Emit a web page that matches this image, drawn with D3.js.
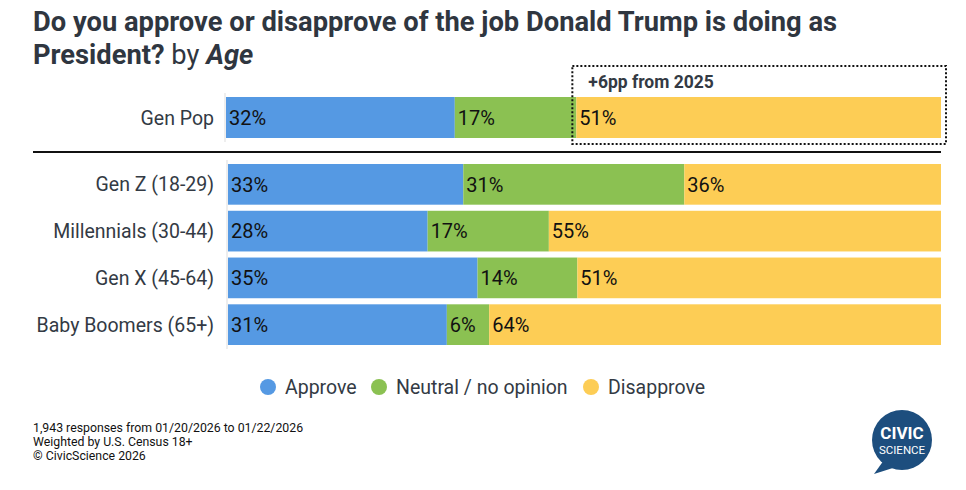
<!DOCTYPE html>
<html>
<head>
<meta charset="utf-8">
<script src="https://cdn.jsdelivr.net/npm/d3@7"></script>
<style>
  body { margin: 0; background: #fff; }
  svg { font-family: Roboto, "Noto Sans", sans-serif; }
</style>
</head>
<body>
<div id="chart"></div>
<script>
"use strict";

// data
var topGroups = ["Gen Pop"];
var ageGroups = ["Gen Z (18-29)", "Millennials (30-44)", "Gen X (45-64)", "Baby Boomers (65+)"];
var seriesNames = ["Approve", "Neutral / no opinion", "Disapprove"];
var approve = [32, 33, 28, 35, 31];
var neutral = [17, 31, 17, 14, 6];
var disapprove = [51, 36, 55, 51, 64];
var colors = ["#5599e3", "#8bc152", "#fdcd55"];
var footLines = ["1,943 responses from 01/20/2026 to 01/22/2026", "Weighted by U.S. Census 18+", "\u00a9 CivicScience 2026"];

var W = 966, H = 490;
var svg = d3.select("#chart").append("svg").attr("width", W).attr("height", H);

// title
var title = svg.append("text").attr("x", 33).attr("y", 31)
	.style("font-size", "27.3px").style("fill", "#2f3640").style("font-weight", "bold");
title.append("tspan").text("Do you approve or disapprove of the job Donald Trump is doing as");
var t2 = svg.append("text").attr("x", 33).attr("y", 64)
	.style("font-size", "27.3px").style("fill", "#2f3640");
t2.append("tspan").style("font-weight", "bold").text("President?");
t2.append("tspan").text(" by ");
t2.append("tspan").style("font-weight", "bold").style("font-style", "italic").text("Age");

var allGroups = topGroups.concat(ageGroups);
var rows = allGroups.map(function(g, i){
	return {group: g, values: [approve[i], neutral[i], disapprove[i]]};
});

function drawPanel(data, x0, yTop, yBottom, padInner){
	var y = d3.scaleBand().domain(data.map(function(d){return d.group;}))
		.range([yTop, yBottom]).paddingInner(padInner).paddingOuter(0);

	svg.append("line").attr("x1", x0 - 1).attr("x2", x0 - 1)
		.attr("y1", yTop - 4).attr("y2", yBottom + 4)
		.attr("stroke", "#dddddd").attr("stroke-width", 1);

	var g = svg.append("g").selectAll("g").data(data).enter().append("g");
	var lastX = null;
	g.each(function(d){
		var row = d3.select(this);
		// each row fills the full width (rounded values may not sum to 100)
		var x = d3.scaleLinear().domain([0, d3.sum(d.values)]).range([x0, 941]);
		lastX = x;
		var cum = 0;
		d.values.forEach(function(v, k){
			var xs = x(cum), xe = x(cum + v);
			row.append("rect").attr("x", xs).attr("y", y(d.group))
				.attr("width", xe - xs).attr("height", y.bandwidth())
				.attr("fill", colors[k]);
			row.append("text").attr("x", xs + 3).attr("y", y(d.group) + y.bandwidth() / 2)
				.attr("dy", "0.36em").style("font-size", "20px").style("fill", "#111")
				.text(v + "%");
			cum += v;
		});
		row.append("text").attr("x", 214).attr("y", y(d.group) + y.bandwidth() / 2)
			.attr("dy", "0.36em").attr("text-anchor", "end")
			.style("font-size", "19.5px").style("fill", "#333a44").text(d.group);
	});
	return {x: lastX, y: y};
}

var genPop = drawPanel(rows.slice(0, 1), 226, 97, 138, 0);
drawPanel(rows.slice(1), 228, 164, 345, 0.13);

// separator
svg.append("line").attr("x1", 33).attr("x2", 941).attr("y1", 152).attr("y2", 152)
	.attr("stroke", "#111").attr("stroke-width", 2);

// annotation box
var bx = genPop.x(approve[0] + neutral[0]) - 4;
svg.append("rect").attr("x", bx).attr("y", 66).attr("width", 946 - bx).attr("height", 78)
	.attr("fill", "none").attr("stroke", "#111").attr("stroke-width", 2)
	.attr("stroke-dasharray", "2,2");
svg.append("text").attr("x", bx + 16).attr("y", 88)
	.style("font-size", "17.5px").style("font-weight", "bold").style("fill", "#333a44")
	.text("+6pp from 2025");

// legend
var legX = [268, 379, 591];
var leg = svg.append("g").selectAll("g").data(seriesNames).enter().append("g");
leg.append("circle").attr("cx", function(d, i){return legX[i];}).attr("cy", 387).attr("r", 8)
	.attr("fill", function(d, i){return colors[i];});
leg.append("text").attr("x", function(d, i){return legX[i] + 17;}).attr("y", 387)
	.attr("dy", "0.36em").style("font-size", "19.5px").style("fill", "#333a44")
	.text(function(d){return d;});

// footnote
svg.append("g").selectAll("text").data(footLines).enter().append("text")
	.attr("x", 33).attr("y", function(d, i){return 432 + i * 14;})
	.style("font-size", "12.3px").style("fill", "#111").text(function(d){return d;});

// logo
var logo = svg.append("g").attr("transform", "translate(902,440)");
logo.append("path").attr("d", "M-18,20 L-28,34 L-6,27 Z").attr("fill", "#1d4e7e");
logo.append("circle").attr("r", 30).attr("fill", "#1d4e7e");
logo.append("text").attr("y", -1).attr("text-anchor", "middle")
	.style("font-size", "17px").style("font-weight", "bold").style("fill", "#fff").text("CIVIC");
logo.append("text").attr("y", 14).attr("text-anchor", "middle")
	.style("font-size", "11.5px").style("fill", "#fff").text("SCIENCE");
</script>
</body>
</html>
